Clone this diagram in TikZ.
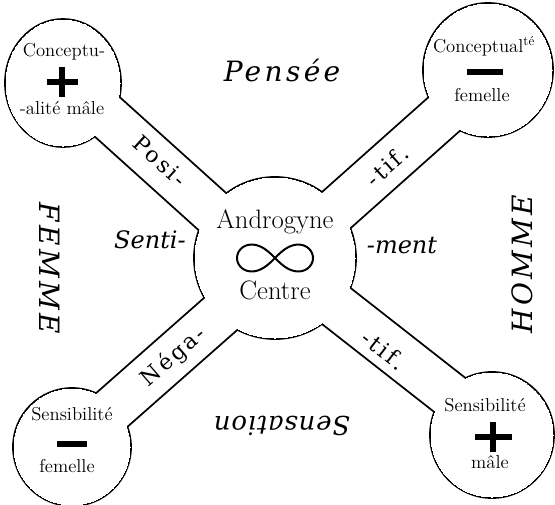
\documentclass[tikz,border=0pt]{standalone}
\usepackage{fontspec}
\newfontfamily\slabfont{DejaVu Serif}
\newfontfamily\slabwide{DejaVu Serif}[LetterSpace=12]
\newfontfamily\slabmid{DejaVu Serif}[LetterSpace=3]
\usetikzlibrary{positioning}

\begin{document}
\begin{tikzpicture}[
  x=0.75pt,y=-0.75pt,
  big/.style={font=\slabwide\itshape\fontsize{21}{21}\selectfont,inner sep=0pt},
  mid/.style={font=\slabfont\itshape\fontsize{18}{18}\selectfont,inner sep=0pt},
  arm/.style={font=\slabwide\fontsize{16.5}{16.5}\selectfont,inner sep=0pt},
  core/.style={font=\fontsize{20}{20}\selectfont,inner sep=0pt},
  small/.style={font=\fontsize{14}{14}\selectfont,inner sep=0pt},
  sign/.style={line width=3.8pt},
]
\useasboundingbox (0,0) rectangle (555,504);

% --- outline of circles and arms (black wide, then white) ---
\foreach \pass/\extra/\col in {1/2.8pt/black,2/0pt/white} {
  \draw[line width=\extra,draw=\col,fill=\col]
    (63,83) ellipse [x radius=57,y radius=63]
    (488,70) ellipse [x radius=64,y radius=66]
    (72,447) ellipse [x radius=58,y radius=58]
    (492,435) ellipse [x radius=61,y radius=62]
    (275,258) circle [radius=80];
  \draw[line width=33pt+\extra,\col] (63,77) -- (275,268);
  \draw[line width=33pt+\extra,\col] (488,75) -- (278,262);
  \draw[line width=33pt+\extra,\col] (72,445) -- (275,266);
  \draw[line width=33pt+\extra,\col] (492,428) -- (275,258);
}
% refill round the joints
\fill[white] (275,258) circle [radius=79];

% --- centre ---
\node[core] (andro) at (275,222) {Androgyne};
\draw[line width=1.5pt] plot[domain=0:360,samples=90,smooth cycle]
  ({275+38*cos(\x)/(1+sin(\x)^2)},{258+38*sin(\x)*cos(\x)/(1+sin(\x)^2)});
\node[core] (centre) at (275,290) {Centre};

% --- corner circles ---
\node[small] (tlup) at (64,52) {Conceptu-};
\draw[sign] (47,82) -- (78,82) (62,67) -- (62,97);
\node[small] (tllow) at (62,108) {-alité mâle};

\node[small] (trup) at (484,46) {Conceptual\textsuperscript{té}};
\draw[sign] (467,72) -- (503,72);
\node[small] (trlow) at (482,95) {femelle};

\node[small] (blup) at (72,414) {Sensibilité};
\draw[sign] (57,444) -- (87,444);
\node[small] (bllow) at (67,466) {femelle};

\node[small] (brup) at (485,405) {Sensibilité};
\draw[sign] (475,437) -- (512,437) (493,422) -- (493,452);
\node[small] (brlow) at (490,462) {mâle};

% --- words on the arms ---
\node[arm,rotate=-42] (posi) at (160,161) {Posi-};
\node[arm,rotate=42] (tifa) at (387,166) {-tif.};
\node[arm,rotate=41] (nega) at (174,357) {Néga-};
\node[arm,rotate=-38] (tifb) at (384,350) {-tif.};

% --- words round the cross ---
\node[big] (pensee) at (282,70) {Pensée};
\node[big,rotate=180,font=\slabmid\itshape\fontsize{19.5}{19.5}\selectfont] (sensation) at (282,426) {Sensation};
\node[big,rotate=-90] (femme) at (50,268) {FEMME};
\node[big,rotate=90] (homme) at (522,264) {HOMME};
\node[mid] (senti) at (150,240) {Senti-};
\node[mid] (ment) at (402,245) {-ment};

\end{tikzpicture}
\end{document}
